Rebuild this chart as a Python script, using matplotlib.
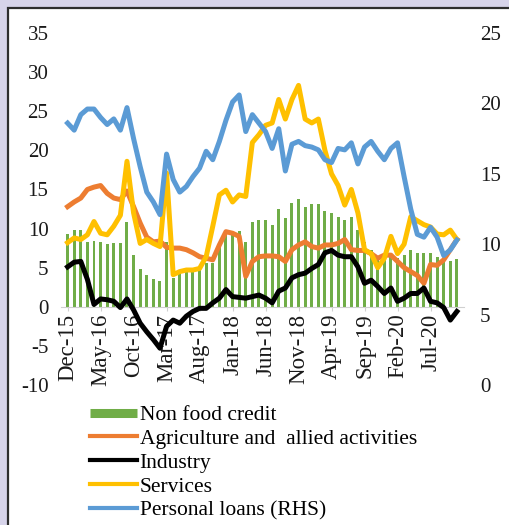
import numpy as np
import matplotlib
matplotlib.use('Agg')
import matplotlib.pyplot as plt
from matplotlib.lines import Line2D
from matplotlib.patches import Rectangle

plt.rcParams['font.family'] = ['Liberation Serif', 'DejaVu Serif']
plt.rcParams['axes.unicode_minus'] = False

# monthly series, Dec-15 .. Nov-20 (y-o-y growth, per cent)
months = ['Dec-15', 'May-16', 'Oct-16', 'Mar-17', 'Aug-17', 'Jan-18',
          'Jun-18', 'Nov-18', 'Apr-19', 'Sep-19', 'Feb-20', 'Jul-20']

non_food = [9.3, 9.8, 9.8, 8.3, 8.4, 8.3, 8.0, 8.2, 8.2, 10.8,
            6.6, 4.8, 4.0, 3.6, 3.3, 8.3, 3.7, 4.3, 4.5, 5.0,
            5.1, 5.6, 5.6, 7.7, 9.3, 9.6, 9.7, 8.3, 10.9, 11.1,
            11.1, 10.5, 12.5, 11.4, 13.3, 13.8, 12.8, 13.2, 13.2, 12.3,
            12.0, 11.5, 11.1, 11.5, 9.8, 8.3, 7.3, 6.4, 6.2, 6.4,
            6.2, 6.6, 7.3, 6.9, 6.9, 6.9, 6.4, 6.0, 5.8, 6.1]

agri = [12.8, 13.4, 13.9, 15.0, 15.3, 15.5, 14.5, 13.9, 13.7, 14.8,
        12.8, 10.7, 8.9, 8.3, 8.4, 7.6, 7.5, 7.5, 7.3, 6.9,
        6.4, 6.2, 6.0, 7.9, 9.6, 9.4, 9.0, 3.9, 5.8, 6.4,
        6.5, 6.5, 6.4, 5.8, 7.3, 7.9, 8.3, 7.7, 7.5, 7.9,
        7.9, 8.1, 8.6, 7.3, 7.2, 7.2, 6.8, 6.2, 6.6, 6.6,
        5.8, 5.0, 4.5, 4.0, 3.0, 5.4, 5.3, 6.0, 7.3, 8.6]

industry = [5.1, 5.7, 5.8, 3.5, 0.3, 1.0, 0.9, 0.7, -0.1, 1.0,
            -0.4, -2.1, -3.2, -4.2, -5.3, -2.5, -1.7, -2.1, -1.2, -0.6,
            -0.2, -0.2, 0.5, 1.1, 2.2, 1.3, 1.2, 1.1, 1.3, 1.5,
            1.1, 0.5, 2.0, 2.4, 3.7, 4.1, 4.3, 4.9, 5.4, 6.9,
            7.2, 6.6, 6.4, 6.4, 5.1, 3.0, 3.4, 2.6, 1.7, 2.4,
            0.7, 1.1, 1.7, 1.7, 2.4, 0.7, 0.5, -0.1, -1.7, -0.6]

services = [8.2, 8.8, 8.6, 9.2, 10.9, 9.4, 9.2, 10.3, 11.7, 18.6,
            12.0, 8.1, 8.6, 8.1, 7.7, 17.1, 4.1, 4.5, 4.7, 4.7,
            4.9, 6.4, 10.3, 14.3, 14.9, 13.4, 14.3, 14.1, 21.0, 22.0,
            23.2, 23.5, 26.5, 24.0, 26.5, 28.3, 24.0, 23.5, 24.0, 20.0,
            17.0, 15.5, 13.0, 15.0, 12.0, 7.3, 6.8, 5.0, 6.2, 9.0,
            6.8, 8.0, 11.5, 11.0, 10.5, 10.2, 9.3, 9.2, 9.8, 8.6]

personal = [18.6, 18.1, 19.2, 19.6, 19.6, 19.0, 18.5, 18.9, 18.1, 19.7,
            17.5, 15.5, 13.7, 13.0, 12.1, 16.4, 14.6, 13.7, 14.1, 14.8,
            15.4, 16.6, 16.0, 17.3, 18.8, 20.1, 20.6, 18.0, 19.2, 18.6,
            18.0, 16.8, 18.2, 15.2, 17.1, 17.3, 17.0, 16.9, 16.7, 16.0,
            15.8, 16.8, 16.7, 17.2, 15.7, 16.9, 17.3, 16.6, 16.0, 16.8,
            17.2, 14.8, 12.5, 10.7, 10.5, 11.2, 10.5, 9.2, 9.6, 10.3]

green = '#70ad47'
orange = '#ed7d31'
yellow = '#ffc000'
blue = '#5b9bd5'

x = np.arange(len(non_food))

fig = plt.figure(figsize=(5.09, 5.25), dpi=100, facecolor='#d7d4ea')
# white panel with dark frame on top / left
fig.patches.append(Rectangle((8, -10), 520, 527, transform=None,
                             facecolor='white', edgecolor='#2e2e2e',
                             linewidth=1.6, zorder=-5))

ax = fig.add_axes([61 / 509, 140 / 525, 402.5 / 509, 352 / 525])
ax.set_facecolor('none')
ax.bar(x, non_food, width=0.45, color=green, zorder=1)
ax.plot(x, agri, color=orange, lw=3.6, zorder=2)
ax.plot(x, industry, color='black', lw=3.6, zorder=3)
ax.plot(x, services, color=yellow, lw=3.6, zorder=2)

ax.set_xlim(-1, 60)
ax.set_ylim(-10, 35)
ax.set_yticks(range(-10, 36, 5))
ax.set_xticks(x[::5])
ax.set_xticklabels(months)
for s in ['top', 'right', 'left']:
    ax.spines[s].set_visible(False)
ax.spines['bottom'].set_position(('data', 0))
ax.spines['bottom'].set_color('#d0d0d0')
ax.tick_params(axis='y', length=0, pad=9, labelsize=15, colors='#1a1a1a')
ax.tick_params(axis='x', length=3, color='#d0d0d0', pad=2, labelsize=16.5,
               labelcolor='#1a1a1a', labelrotation=90)

ax2 = ax.twinx()
ax2.plot(x, personal, color=blue, lw=3.6)
ax2.set_ylim(0, 25)
ax2.set_yticks(range(0, 26, 5))
for s in ax2.spines.values():
    s.set_visible(False)
ax2.tick_params(axis='y', length=0, pad=12, labelsize=15, colors='#1a1a1a')

handles = [Line2D([], [], color=green, lw=6.5, solid_capstyle='butt'),
           Line2D([], [], color=orange, lw=3.0),
           Line2D([], [], color='black', lw=3.0),
           Line2D([], [], color=yellow, lw=3.0),
           Line2D([], [], color=blue, lw=3.0)]
labels = ['Non food credit', 'Agriculture and  allied activities', 'Industry',
          'Services', 'Personal loans (RHS)']
fig.legend(handles, labels, loc='upper left', bbox_to_anchor=(90 / 509, 120 / 525),
           frameon=False, fontsize=15.5, handlelength=2.2, handletextpad=0.1,
           labelspacing=0.18, borderpad=0, borderaxespad=0)

fig.savefig('out.png', dpi=100, facecolor=fig.get_facecolor())
